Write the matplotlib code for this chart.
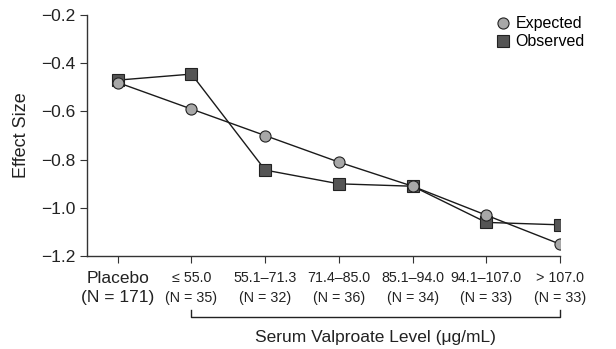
import matplotlib
matplotlib.use("Agg")
import matplotlib.pyplot as plt

plt.rcParams["font.family"] = ["Liberation Sans", "DejaVu Sans"]

# ── Data ────────────────────────────────────────────────────────────────
GROUPS = ["Placebo", "\u2264 55.0", "55.1\u201371.3", "71.4\u201385.0",
          "85.1\u201394.0", "94.1\u2013107.0", "> 107.0"]
N_LABELS = ["(N = 171)", "(N = 35)", "(N = 32)", "(N = 36)",
            "(N = 34)", "(N = 33)", "(N = 33)"]
EXPECTED = [-0.48, -0.59, -0.70, -0.81, -0.91, -1.03, -1.15]
OBSERVED = [-0.47, -0.445, -0.843, -0.90, -0.91, -1.06, -1.07]

x = list(range(len(GROUPS)))

fig = plt.figure(figsize=(6.16, 3.49), dpi=100)
ax = fig.add_axes([0.141, 0.266, 0.768, 0.691])

ax.plot(x, OBSERVED, color="#1a1a1a", lw=1.0, marker="s", ms=8,
        mfc="#555555", mec="#222222", mew=0.8, label="Observed", zorder=3)
ax.plot(x, EXPECTED, color="#1a1a1a", lw=1.0, marker="o", ms=8,
        mfc="#a8a8a8", mec="#222222", mew=0.8, label="Expected", zorder=4)

ax.set_ylim(-1.2, -0.2)
ax.set_yticks([-1.2, -1.0, -0.8, -0.6, -0.4, -0.2])
ax.set_yticklabels(["\u22121.2", "\u22121.0", "\u22120.8", "\u22120.6",
                    "\u22120.4", "\u22120.2"], fontsize=12.5)
ax.set_xlim(-0.42, 6.0)
ax.set_xticks(x)
ax.set_xticklabels([])
ax.spines["top"].set_visible(False)
ax.spines["right"].set_visible(False)
ax.spines["bottom"].set_bounds(-0.42, 6.0)
for s in ("left", "bottom"):
    ax.spines[s].set_color("#333333")
    ax.spines[s].set_linewidth(1.0)
ax.tick_params(direction="out", length=5, color="#333333", labelcolor="#222222")
ax.set_ylabel("Effect Size", fontsize=13, color="#222222", labelpad=8)

# tick labels in two lines
trans = ax.get_xaxis_transform()
for i, (g, n) in enumerate(zip(GROUPS, N_LABELS)):
    fs = 12.5 if i == 0 else 10.3
    ax.text(i, -0.091, g, transform=trans, ha="center", va="center",
            fontsize=fs, color="#222222", clip_on=False)
    ax.text(i, -0.172, n, transform=trans, ha="center",
            va="center", fontsize=fs, color="#222222", clip_on=False)

# bracket for serum levels
yb, yt = -0.253, -0.224
ax.plot([1, 1, 6, 6], [yt, yb, yb, yt], transform=trans, color="#222222",
        lw=1.0, clip_on=False)
ax.text(3.5, -0.336, "Serum Valproate Level (\u03bcg/mL)", transform=trans,
        ha="center", va="center", fontsize=12.5, color="#222222")

handles, labels = ax.get_legend_handles_labels()
leg = ax.legend(handles[::-1], labels[::-1], loc="upper left",
                bbox_to_anchor=(0.862, 0.995), frameon=False, fontsize=11.5,
                handletextpad=0.3, labelspacing=0.2, handlelength=1.0,
                borderpad=0, borderaxespad=0)
for line in leg.get_lines():
    line.set_linestyle("none")

fig.savefig("out.png", dpi=100)
